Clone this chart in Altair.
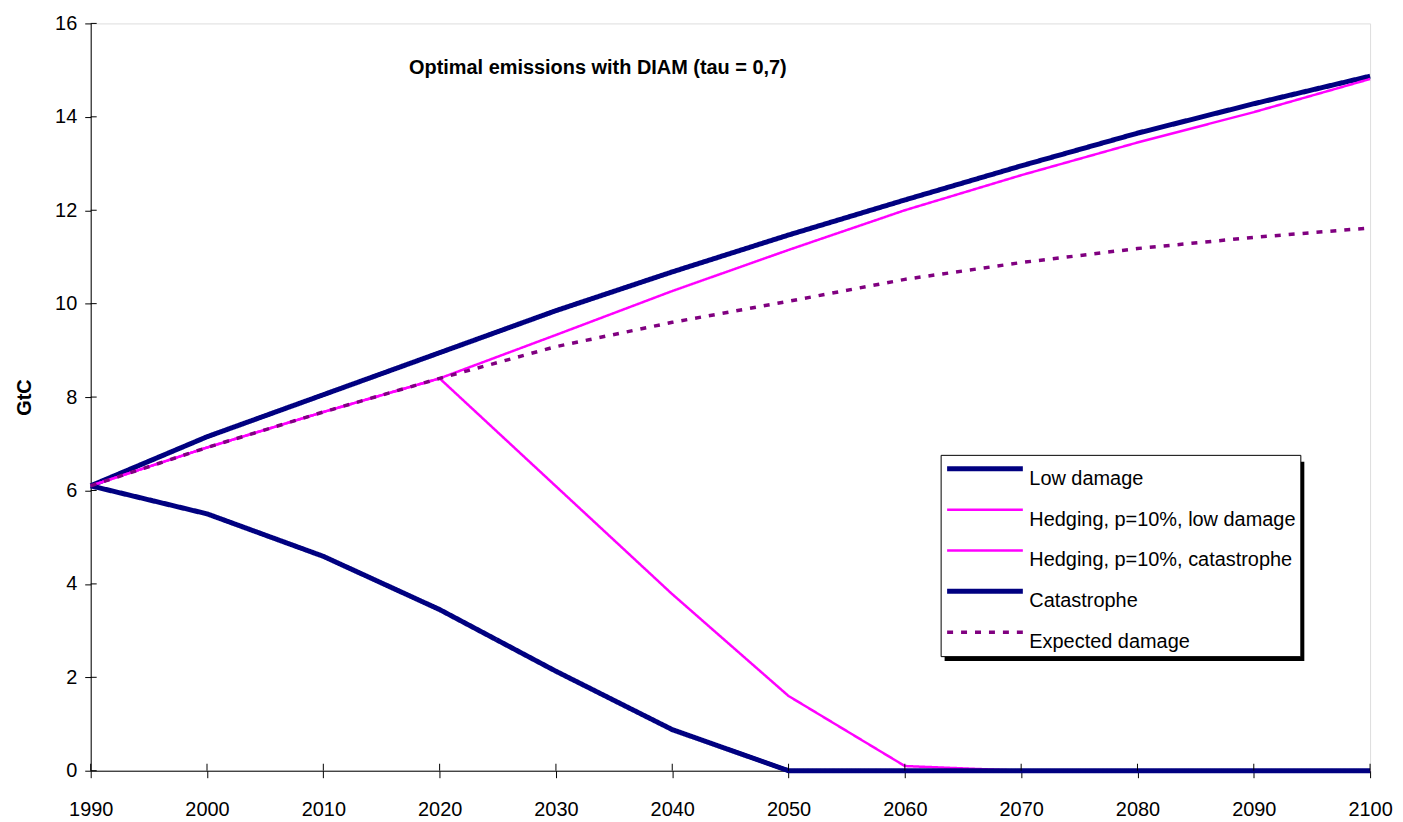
import altair as alt
import pandas as pd

years = [1990, 2000, 2010, 2020, 2030, 2040, 2050, 2060, 2070, 2080, 2090, 2100]
low_damage = [6.1, 7.15, 8.05, 8.95, 9.85, 10.68, 11.47, 12.22, 12.95, 13.65, 14.28, 14.87]
hedging_low = [6.1, 6.92, 7.68, 8.4, 9.33, 10.27, 11.15, 12.0, 12.75, 13.45, 14.1, 14.81]
hedging_cat = [6.1, 6.92, 7.68, 8.4, 6.09, 3.78, 1.6, 0.1, 0.0, 0.0, 0.0, 0.0]
catastrophe = [6.1, 5.5, 4.59, 3.45, 2.13, 0.88, 0.0, 0.0, 0.0, 0.0, 0.0, 0.0]
expected = [6.1, 6.92, 7.68, 8.4, 9.08, 9.6, 10.05, 10.52, 10.88, 11.18, 11.42, 11.62]

names = ["Low damage", "Hedging, p=10%, low damage", "Hedging, p=10%, catastrophe",
         "Catastrophe", "Expected damage"]
series_values = [low_damage, hedging_low, hedging_cat, catastrophe, expected]
colors = ["#000080", "#FF00FF", "#FF00FF", "#000080", "#800080"]
widths = [5, 2.5, 2.5, 5, 3.5]
dashes = [[1, 0], [1, 0], [1, 0], [1, 0], [6, 8]]
y_ticks = list(range(0, 17, 2))
title_text = "Optimal emissions with DIAM (tau = 0,7)"

rows = []
for n, vals in zip(names, series_values):
    for yr, v in zip(years, vals):
        rows.append({"year": yr, "value": v, "series": n})
df = pd.DataFrame(rows)

FONT = "Liberation Sans"
W, H = 1284, 750

leg = alt.Legend(title=None, orient="none", legendX=853, legendY=433, direction="vertical",
                 symbolType="stroke", symbolSize=5776, labelFontSize=20, labelFont=FONT,
                 labelColor="black", fillColor="white", strokeColor="black", padding=4,
                 rowPadding=11, clipHeight=20, labelOffset=4, labelBaseline="top", labelLimit=0)

xscale = alt.Scale(domain=[1990, 2100], nice=False, zero=False)
yscale = alt.Scale(domain=[0, 16], nice=False)

xaxis = alt.Axis(values=years, format="d", title=None, grid=False, tickSize=7,
                 labelPadding=22, labelFontSize=20, labelFont=FONT, labelColor="black",
                 labelFlush=False, labelOverlap=False,
                 domainColor="black", tickColor="black")
yaxis = alt.Axis(values=y_ticks, title="GtC", titleFont=FONT, titleFontSize=20,
                 titleFontWeight="bold", titleColor="black", titlePadding=20,
                 grid=False, tickSize=6, labelPadding=8, labelFontSize=20,
                 labelFont=FONT, labelColor="black", labelFlush=False,
                 domainColor="black", tickColor="black")

base = alt.Chart(df).mark_line().encode(
    x=alt.X("year:Q", scale=xscale, axis=xaxis),
    y=alt.Y("value:Q", scale=yscale, axis=yaxis),
    color=alt.Color("series:N", scale=alt.Scale(domain=names, range=colors), legend=leg),
    strokeWidth=alt.StrokeWidth("series:N",
                                scale=alt.Scale(type="ordinal", domain=names, range=widths),
                                legend=leg),
    strokeDash=alt.StrokeDash("series:N", scale=alt.Scale(domain=names, range=dashes),
                              legend=leg),
)

line_layers = [base.transform_filter(alt.datum.series == n) for n in names]

one = pd.DataFrame({"a": [0]})
shadow = alt.Chart(one).mark_rect(color="black").encode(
    x=alt.value(857), x2=alt.value(1218), y=alt.value(440), y2=alt.value(640))

ytick_in = alt.Chart(pd.DataFrame({"value": y_ticks})).mark_rule(color="black").encode(
    y=alt.Y("value:Q", scale=yscale, axis=yaxis), x=alt.value(0), x2=alt.value(6))
xtick_in = alt.Chart(pd.DataFrame({"year": years})).mark_rule(color="black").encode(
    x=alt.X("year:Q", scale=xscale, axis=xaxis), y=alt.value(H - 7), y2=alt.value(H))

title = alt.Chart(pd.DataFrame({"t": [title_text]})).mark_text(
    font=FONT, fontSize=20, fontWeight="bold", color="black", align="center",
    baseline="alphabetic").encode(text="t:N", x=alt.value(509), y=alt.value(51))

chart = alt.layer(shadow, *line_layers, ytick_in, xtick_in, title).properties(
    width=W, height=H,
    autosize=alt.AutoSizeParams(type="none"),
    padding={"left": 83, "top": 14, "right": 25, "bottom": 50},
).configure_view(stroke="#808080", strokeWidth=1).configure(background="white")

chart.save("out.html", embed_options={"renderer": "svg", "actions": False})
